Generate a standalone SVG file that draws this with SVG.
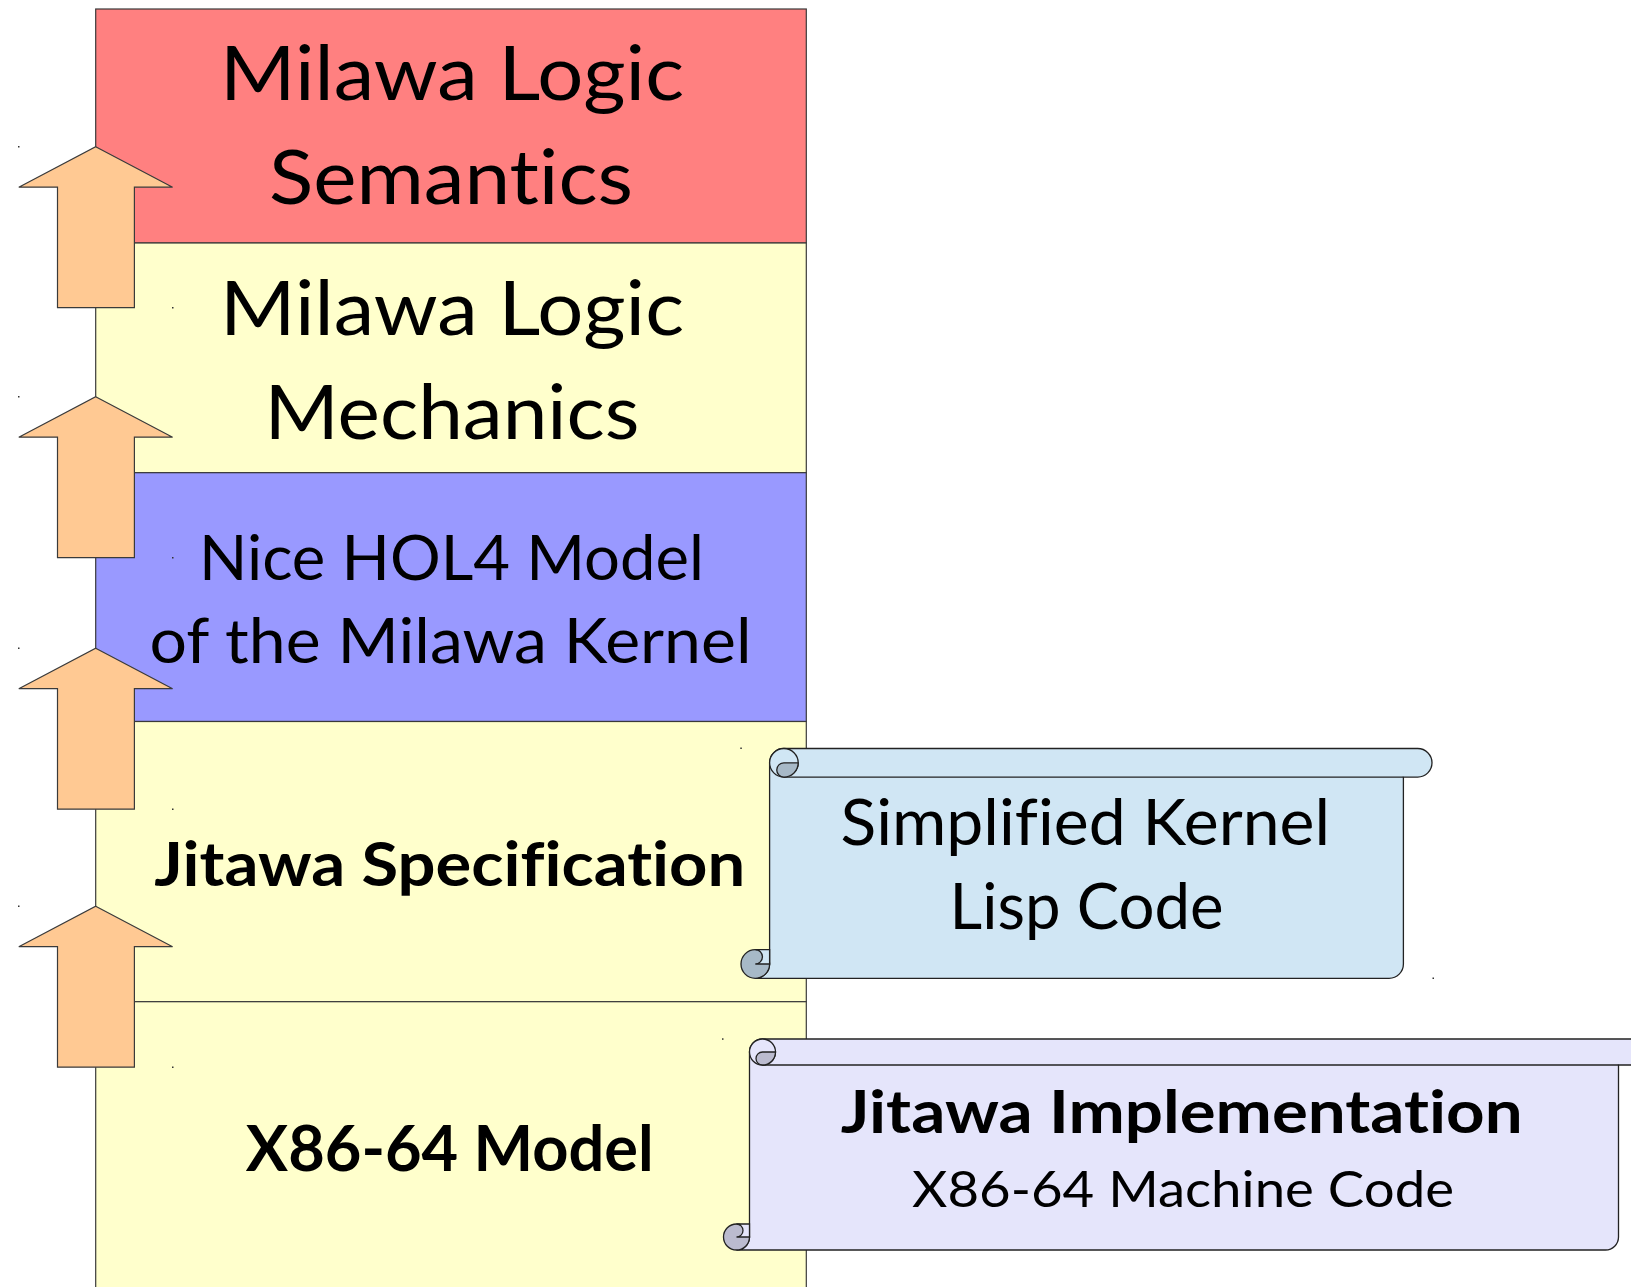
<svg xmlns="http://www.w3.org/2000/svg" xmlns:xlink="http://www.w3.org/1999/xlink" width="1631" height="1287" viewBox="0 0 1631 1287">
  <defs>
    <style>
      .layer { stroke: #3a3a3a; stroke-width: 1.2; }
      .red { fill: #FF8080; }
      .yel { fill: #FFFFCC; }
      .blu { fill: #9999FF; }
      .arrow { fill: #FFC993; stroke: #3a3a3a; stroke-width: 1.2; stroke-linejoin: miter; }
      .ln { stroke: #222; stroke-width: 1.3; fill: none; }
      .s1 { fill: #D0E6F4; stroke: #222; stroke-width: 1.3; }
      .s1d { fill: #A7B9C7; stroke: #222; stroke-width: 1.3; }
      .s2 { fill: #E5E5FB; stroke: #222; stroke-width: 1.3; }
      .s2d { fill: #BBBBCF; stroke: #222; stroke-width: 1.3; }
      .t { font-family: Lato, "Open Sans", "Noto Sans", sans-serif; fill: #000; font-variant-ligatures: none; font-feature-settings: "liga" 0, "dlig" 0, "clig" 0; }
      .b { font-weight: bold; }
      .dot { fill: #333; }
    </style>
    <path id="arr" class="arrow" d="M95.7,0 L172.6,40.5 L134.4,40.5 L134.4,161 L57.5,161 L57.5,40.5 L18.8,40.5 Z"/>
  </defs>

  <rect width="1631" height="1287" fill="#FFFFFF"/>

  <g id="layer-semantics">
    <rect class="layer red" x="95.7" y="9" width="710.6" height="234"/>
    <text class="t" font-size="75" x="220" y="99.5" textLength="464" lengthAdjust="spacingAndGlyphs">Milawa Logic</text>
    <text class="t" font-size="75" x="269" y="204" textLength="364" lengthAdjust="spacingAndGlyphs">Semantics</text>
  </g>

  <g id="layer-mechanics">
    <rect class="layer yel" x="95.7" y="243" width="710.6" height="229.7"/>
    <text class="t" font-size="75" x="220" y="335" textLength="464" lengthAdjust="spacingAndGlyphs">Milawa Logic</text>
    <text class="t" font-size="75" x="264.5" y="438.5" textLength="375" lengthAdjust="spacingAndGlyphs">Mechanics</text>
  </g>

  <g id="layer-hol4">
    <rect class="layer blu" x="95.7" y="472.7" width="710.6" height="248.8"/>
    <text class="t" font-size="62" x="199" y="579.5" textLength="505" lengthAdjust="spacingAndGlyphs">Nice HOL4 Model</text>
    <text class="t" font-size="62" x="149.5" y="662.5" textLength="602" lengthAdjust="spacingAndGlyphs">of the Milawa Kernel</text>
  </g>

  <g id="layer-jitawa-spec">
    <rect class="layer yel" x="95.7" y="721.5" width="710.6" height="280.2"/>
    <text class="t b" font-size="62" x="154.3" y="886" textLength="591" lengthAdjust="spacingAndGlyphs">Jitawa Specification</text>
  </g>

  <g id="layer-x86">
    <rect class="layer yel" x="95.7" y="1001.7" width="710.6" height="300"/>
    <text class="t b" font-size="64" x="245.8" y="1170.7" textLength="408" lengthAdjust="spacingAndGlyphs">X86-64 Model</text>
  </g>

  <g id="connectors">
    <use xlink:href="#arr" href="#arr" transform="translate(0,146.7)"/>
    <use xlink:href="#arr" href="#arr" transform="translate(0,396.7)"/>
    <use xlink:href="#arr" href="#arr" transform="translate(0,648.2)"/>
    <use xlink:href="#arr" href="#arr" transform="translate(0,906.2)"/>
  </g>

  <g id="scroll-lisp">
    <path class="s1" d="M769.6,762.8 A14.3,14.3 0 0 1 783.9,748.5 L1417.7,748.5 A14.3,14.3 0 0 1 1417.7,777.1 L1403.4,777.1 L1403.4,964 A14.3,14.3 0 0 1 1389.1,978.3 L755.3,978.3 A14.3,14.3 0 0 0 769.6,964 Z"/>
    <path class="ln" d="M783.9,777.1 L1403.4,777.1"/>
    <circle class="s1" cx="783.9" cy="762.8" r="14.3"/>
    <path class="s1d" d="M783.9,762.8 L798.2,762.8 A14.3,14.3 0 0 1 783.9,777.1 A7.15,7.15 0 0 1 783.9,762.8 Z"/>
    <circle class="s1d" cx="755.3" cy="964" r="14.3"/>
    <path class="s1" d="M755.3,949.7 L769.6,949.7 L769.6,964 L755.3,964 A7.15,7.15 0 0 0 755.3,949.7 Z"/>
    <text class="t" font-size="63" x="840.6" y="845" textLength="489.5" lengthAdjust="spacingAndGlyphs">Simplified Kernel</text>
    <text class="t" font-size="63" x="949.6" y="928.5" textLength="274" lengthAdjust="spacingAndGlyphs">Lisp Code</text>
  </g>

  <g id="scroll-impl">
    <path class="s2" d="M749.5,1052 A13,13 0 0 1 762.5,1039 L1631.5,1039 A13,13 0 0 1 1631.5,1065 L1618.5,1065 L1618.5,1237 A13,13 0 0 1 1605.5,1250 L736.5,1250 A13,13 0 0 0 749.5,1237 Z"/>
    <path class="ln" d="M762.5,1065 L1618.5,1065"/>
    <circle class="s2" cx="762.5" cy="1052" r="13"/>
    <path class="s2d" d="M762.5,1052 L775.5,1052 A13,13 0 0 1 762.5,1065 A6.5,6.5 0 0 1 762.5,1052 Z"/>
    <circle class="s2d" cx="736.5" cy="1237" r="13"/>
    <path class="s2" d="M736.5,1224 L749.5,1224 L749.5,1237 L736.5,1237 A6.5,6.5 0 0 0 736.5,1224 Z"/>
    <text class="t b" font-size="60" x="840.7" y="1132.5" textLength="682" lengthAdjust="spacingAndGlyphs">Jitawa Implementation</text>
    <text class="t" font-size="51" x="912" y="1207.3" textLength="542" lengthAdjust="spacingAndGlyphs">X86-64 Machine Code</text>
  </g>

  <g id="marks">
    <rect class="dot" x="18" y="146" width="1.5" height="1.5"/>
    <rect class="dot" x="172" y="307" width="1.5" height="1.5"/>
    <rect class="dot" x="18" y="396" width="1.5" height="1.5"/>
    <rect class="dot" x="172" y="557" width="1.5" height="1.5"/>
    <rect class="dot" x="18" y="647.5" width="1.5" height="1.5"/>
    <rect class="dot" x="172" y="808.5" width="1.5" height="1.5"/>
    <rect class="dot" x="18" y="905.5" width="1.5" height="1.5"/>
    <rect class="dot" x="172" y="1066.5" width="1.5" height="1.5"/>
    <rect class="dot" x="740.3" y="747.5" width="1.5" height="1.5"/>
    <rect class="dot" x="1432.5" y="977.5" width="1.5" height="1.5"/>
    <rect class="dot" x="722" y="1038.3" width="1.5" height="1.5"/>
  </g>
</svg>
